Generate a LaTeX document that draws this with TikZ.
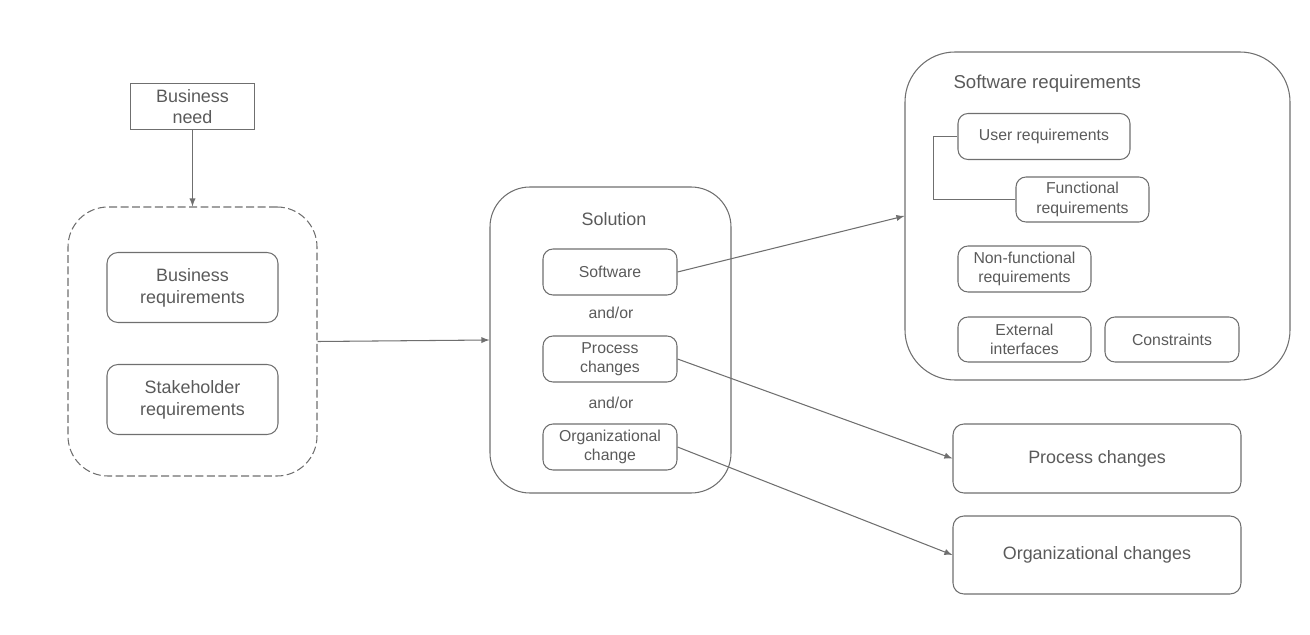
\documentclass[tikz,border=0pt]{standalone}
\usepackage{fontspec}
\setmainfont{Liberation Sans}
\usetikzlibrary{arrows}

\definecolor{linegray}{HTML}{6F6F6F}
\definecolor{textgray}{HTML}{5A5A5A}

\begin{document}
\begin{tikzpicture}[->,>=latex,line width=0.6pt,draw=linegray,text=textgray,
    bigfont/.style={font=\fontsize{10.2}{12.4}\selectfont},
    smallfont/.style={font=\fontsize{9}{11}\selectfont},
    plainbox/.style={draw=linegray,align=center,inner sep=0pt},
    roundbox/.style={plainbox,rounded corners=0.22cm},
    groupbox/.style={draw=linegray,rounded corners=0.8cm,inner sep=0pt}]

\useasboundingbox (0,0) rectangle (26.2,-12.7);

% left part
\node (need) at (3.85,-2.13) [plainbox,bigfont,minimum width=2.48cm,minimum height=0.92cm] {Business\\need};

\node (input) at (3.85,-6.83) [groupbox,dash pattern=on 4.5pt off 2pt,minimum width=4.98cm,minimum height=5.38cm] {};
\node (busreq) at (3.85,-5.75) [roundbox,bigfont,minimum width=3.42cm,minimum height=1.4cm] {Business\\requirements};
\node (stakereq) at (3.85,-7.99) [roundbox,bigfont,minimum width=3.42cm,minimum height=1.4cm] {Stakeholder\\requirements};

% solution
\node (solution) at (12.21,-6.8) [groupbox,minimum width=4.82cm,minimum height=6.12cm] {};
\node (soltitle) at (12.28,-4.39) [bigfont] {Solution};
\node (software) at (12.2,-5.44) [roundbox,smallfont,rounded corners=0.2cm,minimum width=2.68cm,minimum height=0.92cm] {Software};
\node (andor1) at (12.22,-6.25) [smallfont] {and/or};
\node (process) at (12.2,-7.18) [roundbox,smallfont,rounded corners=0.2cm,minimum width=2.68cm,minimum height=0.92cm] {Process\\changes};
\node (andor2) at (12.22,-8.05) [smallfont] {and/or};
\node (orgchange) at (12.2,-8.94) [roundbox,smallfont,rounded corners=0.2cm,minimum width=2.68cm,minimum height=0.92cm] {Organizational\\change};

% software requirements
\node (swreq) at (21.95,-4.32) [groupbox,rounded corners=1cm,minimum width=7.7cm,minimum height=6.56cm] {};
\node (swtitle) at (19.06,-1.67) [anchor=west,inner sep=0pt,font=\fontsize{10.6}{12}\selectfont] {Software requirements};
\node (userreq) at (20.88,-2.73) [roundbox,smallfont,rounded corners=0.2cm,minimum width=3.44cm,minimum height=0.92cm] {User requirements};
\node (funcreq) at (21.65,-3.99) [roundbox,smallfont,rounded corners=0.2cm,minimum width=2.66cm,minimum height=0.9cm] {Functional\\requirements};
\node (nonfunc) at (20.49,-5.38) [roundbox,smallfont,rounded corners=0.2cm,minimum width=2.66cm,minimum height=0.92cm] {Non-functional\\requirements};
\node (extif) at (20.49,-6.79) [roundbox,smallfont,rounded corners=0.2cm,minimum width=2.66cm,minimum height=0.9cm] {External\\interfaces};
\node (constr) at (23.44,-6.79) [roundbox,smallfont,rounded corners=0.2cm,minimum width=2.68cm,minimum height=0.9cm] {Constraints};

% results
\node (procres) at (21.94,-9.17) [roundbox,bigfont,minimum width=5.76cm,minimum height=1.38cm] {Process changes};
\node (orgres) at (21.94,-11.1) [roundbox,bigfont,minimum width=5.76cm,minimum height=1.56cm] {Organizational changes};

\coordinate (bend) at (18.67,0);
\draw [-] (userreq.west) -| (bend |- funcreq.west) -- (funcreq.west);

\path [->]
    (need) edge (input.north)
    (input.east) edge (solution.west)
    (software.east) edge (swreq.west)
    (process.east) edge (procres.west)
    (orgchange.east) edge (orgres.west)
;

\end{tikzpicture}
\end{document}
